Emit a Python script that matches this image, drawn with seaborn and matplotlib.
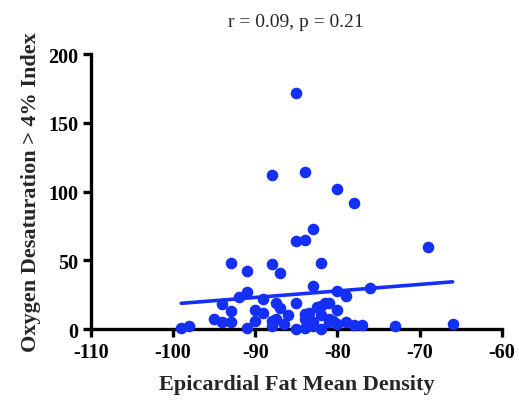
import matplotlib
matplotlib.use("Agg")
import matplotlib.pyplot as plt
import seaborn as sns
import pandas as pd

density = [-99, -98, -95, -94, -94, -93, -93, -93, -92, -91, -91, -91, -90, -90,
           -89, -89, -88, -88, -88, -88, -87.5, -87.5, -87, -87, -86, -86.5,
           -85, -85, -85, -85, -84, -84, -84, -84, -84, -83.5, -83, -83, -83, -83,
           -82.5, -82, -82, -82, -82, -81.5, -81, -81, -81, -80.5, -80, -80, -80, -80,
           -79, -79, -78, -78, -77, -76, -73, -69, -66]
odi = [1, 2, 7, 5, 18, 5, 13, 48, 23, 42, 27, 1, 6, 14,
       22, 12, 112, 47, 6, 2, 19, 7, 41, 15, 10, 4,
       172, 64, 19, 0, 114, 65, 11, 7, 1, 12, 73, 31, 5, 2,
       16, 48, 17, 10, 0, 19, 19, 7, 5, 6, 102, 28, 14, 4,
       24, 5, 92, 3, 3, 30, 2, 60, 4]
x_ticks = [-110, -100, -90, -80, -70, -60]
y_ticks = [0, 50, 100, 150, 200]

df = pd.DataFrame({"density": density, "odi": odi})

sns.set_style("ticks")
plt.rcParams['font.family'] = ['Liberation Serif', 'DejaVu Serif']
plt.rcParams['axes.unicode_minus'] = False

fig = plt.figure(figsize=(5.19, 4.02), dpi=100)
ax = fig.add_axes([0.175, 0.179, 0.792, 0.684])

blue = "#1530F6"
sns.regplot(data=df, x="density", y="odi", ax=ax, ci=None, color=blue,
            scatter_kws=dict(s=70, alpha=1, linewidths=0, clip_on=False, zorder=3),
            line_kws=dict(lw=2.6, zorder=2))

ax.set_xlim(-110, -60)
ax.set_ylim(0, 200)
ax.set_xticks(x_ticks)
ax.set_yticks(y_ticks)
ax.set_xticklabels([str(v) for v in x_ticks])
ax.set_yticklabels([str(v) for v in y_ticks])
for sp in ["top", "right"]:
    ax.spines[sp].set_visible(False)
for sp in ["left", "bottom"]:
    ax.spines[sp].set_linewidth(2.4)
    ax.spines[sp].set_color("black")
ax.tick_params(axis="both", direction="out", length=6, width=2.4, colors="black",
               labelsize=14.5, pad=3)
for lab in ax.get_xticklabels() + ax.get_yticklabels():
    lab.set_fontweight("bold")

ax.set_xlabel("Epicardial Fat Mean Density", fontsize=16, fontweight="bold", labelpad=9)
ax.set_ylabel("Oxygen Desaturation > 4% Index", fontsize=16, fontweight="bold", labelpad=5)
ax.set_title("r = 0.09, p = 0.21", fontsize=14, pad=20)

fig.savefig("out.png", dpi=100)
